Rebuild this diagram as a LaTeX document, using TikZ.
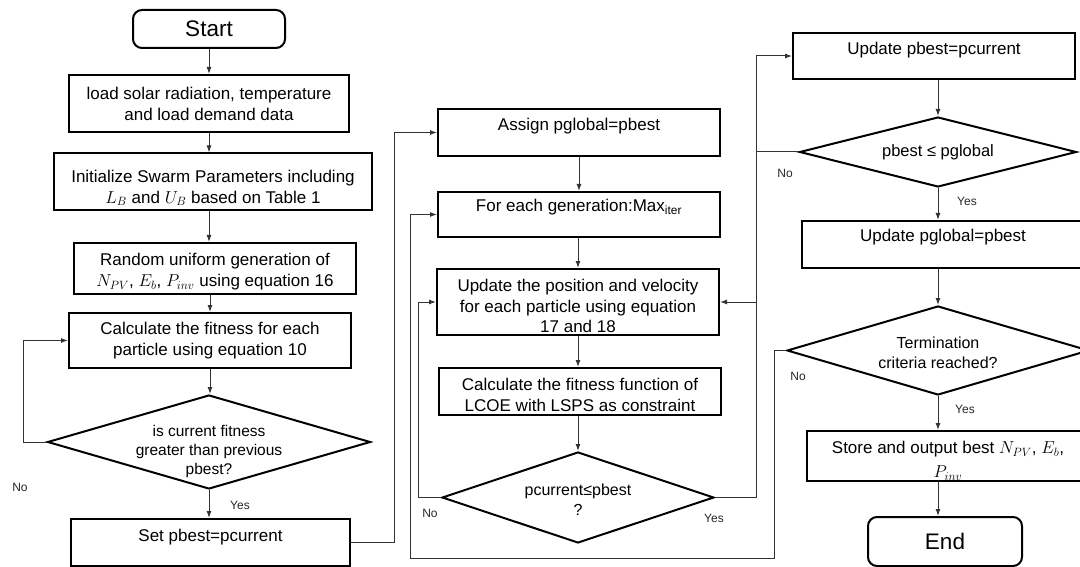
\documentclass[tikz,border=0pt]{standalone}
\usepackage{fontspec}
\setmainfont{Liberation Sans}
\usetikzlibrary{arrows.meta,shapes.geometric}
\begin{document}
\begin{tikzpicture}[x=1pt,y=-1pt,
  box/.style={draw=black,line width=2pt,rectangle,inner sep=0pt,align=center,
    font=\fontsize{17}{21}\selectfont},
  termbox/.style={box,rounded corners=9pt,font=\fontsize{22.5}{26}\selectfont},
  dia/.style={draw=black,line width=2pt,diamond,inner sep=0pt},
  txt/.style={align=center,inner sep=0pt,font=\fontsize{17}{21}\selectfont},
  dtxt/.style={align=center,inner sep=0pt,font=\fontsize{15.5}{19}\selectfont},
  lbl/.style={inner sep=0pt,text=black!85,font=\fontsize{12}{14}\selectfont},
  conn/.style={draw=black!80,line width=1pt},
  arr/.style={conn,-{Latex[length=7pt,width=5pt]}}]
\useasboundingbox (0,0) rectangle (1080,567);
\clip (0,0) rectangle (1080,567);

% left column
\node[termbox,minimum width=152pt,minimum height=38pt] (start) at (209,29) {Start};
\node[box,minimum width=280pt,minimum height=57pt] (load) at (209,103.5)
  {load solar radiation, temperature\\and load demand data};
\node[box,minimum width=318pt,minimum height=57pt] (init) at (213,182) {};
\node[txt] (initt) at (213,188) {Initialize Swarm Parameters including\\$L_B$ and $U_B$ based on Table 1};
\node[box,minimum width=282pt,minimum height=51pt] (rand) at (215,268.5) {};
\node[txt] (randt) at (215,272) {Random uniform generation of\\$N_{PV}$, $E_b$, $P_{inv}$ using equation 16};
\node[box,minimum width=282pt,minimum height=55pt] (calc) at (210,340.5)
  {Calculate the fitness for each\\particle using equation 10};
\node[dia,minimum width=323pt,minimum height=94pt] (d1) at (209,442) {};
\node[dtxt] (d1t) at (209,451) {is current fitness\\greater than previous\\pbest?};
\node[box,minimum width=279pt,minimum height=47pt] (set) at (210.5,542.5) {};
\node[txt] (sett) at (210.5,537) {Set pbest=pcurrent};

% middle column
\node[box,minimum width=282pt,minimum height=47pt] (assign) at (579,132.5) {};
\node[txt] (assignt) at (579,126) {Assign pglobal=pbest};
\node[box,minimum width=282pt,minimum height=45pt] (forg) at (579,214.5) {};
\node[txt] (forgt) at (579,207) {For each generation:Max\textsubscript{iter}};
\node[box,minimum width=282pt,minimum height=66pt] (upd) at (578,302) {};
\node[txt,font=\fontsize{17}{20.5}\selectfont] (updt) at (578,306)
  {Update the position and velocity\\for each particle using equation\\17 and 18};
\node[box,minimum width=282pt,minimum height=47pt] (calf) at (580,391.5) {};
\node[txt] (calft) at (580,394.5) {Calculate the fitness function of\\LCOE with LSPS as constraint};
\node[dia,minimum width=272pt,minimum height=91pt] (d2) at (578,497.5) {};
\node[dtxt,font=\fontsize{16}{20}\selectfont] (d2t) at (578,500) {pcurrent≤pbest\\?};

% right column
\node[box,minimum width=282pt,minimum height=46pt] (upb) at (934,56) {};
\node[txt] (upbt) at (934,50) {Update pbest=pcurrent};
\node[dia,minimum width=277pt,minimum height=70pt] (d3) at (938,152) {};
\node[dtxt,font=\fontsize{16.5}{20}\selectfont] (d3t) at (938,152) {pbest ≤ pglobal};
\node[box,minimum width=282pt,minimum height=47pt] (upg) at (943,244.5) {};
\node[txt] (upgt) at (943,237) {Update pglobal=pbest};
\node[dia,minimum width=302pt,minimum height=89pt] (d4) at (938,350.5) {};
\node[dtxt,font=\fontsize{16}{20}\selectfont] (d4t) at (938,353) {Termination\\criteria reached?};
\node[box,minimum width=282pt,minimum height=50pt] (store) at (948,456) {};
\node[txt,font=\fontsize{17}{24}\selectfont] (storet) at (948,461) {Store and output best $N_{PV}$, $E_b$,\\$P_{inv}$};
\node[termbox,minimum width=154pt,minimum height=49pt] (end) at (945,541.5) {End};

% connectors, left
\draw[arr] (start.south) -- (start.south |- load.north);
\draw[arr] (load.south) -- (load.south |- init.north);
\draw[arr] (load.south |- init.south) -- (load.south |- rand.north);
\draw[arr] (calc.north |- rand.south) -- (calc.north);
\draw[arr] (calc.south) -- (calc.south |- d1.north);
\draw[arr] (d1.south) -- (d1.south |- set.north);
\draw[arr] (d1.west) -- ++(-23,0) |- (calc.west);
\draw[arr] (set.east) -- ++(43,0) |- (assign.west);

% connectors, middle
\draw[arr] (assign.south) -- (assign.south |- forg.north);
\draw[arr] (upd.north |- forg.south) -- (upd.north);
\draw[arr] (upd.south) -- (upd.south |- calf.north);
\draw[arr] (d2.north |- calf.south) -- (d2.north);
\draw[arr] (d2.west) -- ++(-23,0) |- (upd.west);
\draw[arr] (d2.east) -- ++(41,0) |- (upb.west);

% connectors, right
\draw[arr] (d3.north |- upb.south) -- (d3.north);
\draw[arr] (d3.west) -- ++(-42,0) |- (upd.east);
\draw[arr] (d3.south) -- (d3.south |- upg.north);
\draw[arr] (d4.north |- upg.south) -- (d4.north);
\draw[arr] (d4.south) -- (d4.south |- store.north);
\draw[arr] (d4.south |- store.south) -- (d4.south |- end.north);
\coordinate (loopc) at (410,558);
\draw[arr] (d4.west) -- ++(-12,0) |- (loopc) |- (forg.west);

% labels
\node[lbl] (no1) at (20,487) {No};
\node[lbl] (yes1) at (240,505) {Yes};
\node[lbl] (no2) at (430,513) {No};
\node[lbl] (yes2) at (714,518) {Yes};
\node[lbl] (no3) at (785,173) {No};
\node[lbl] (yes3) at (967,201) {Yes};
\node[lbl] (no4) at (798,376) {No};
\node[lbl] (yes4) at (965,409) {Yes};
\end{tikzpicture}
\end{document}
